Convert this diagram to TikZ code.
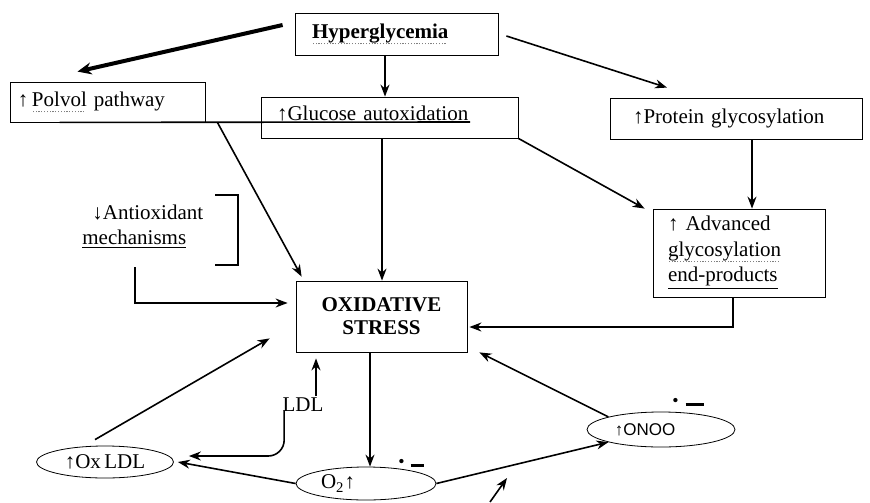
\documentclass[tikz,border=0pt]{standalone}
\usepackage{fontspec}
\setmainfont{Liberation Serif}
\newfontfamily\onoofont{Liberation Sans}
\usetikzlibrary{arrows.meta,shapes.geometric}

% spelling squiggle, plain underline, rising/falling marks
\newcommand\squig[1]{\leavevmode\setbox0\hbox{#1}\rlap{\raisebox{-3pt}{\color{gray}\leaders\hbox to 1.4pt{\hss\rule{0.6pt}{0.6pt}\hss}\hskip\wd0}}\box0{}}
\newcommand\uline[1]{\underline{#1}}
\newcommand\rise{{\bfseries ↑}}
\newcommand\fall{{\bfseries ↓}}

\tikzset{
  box/.style={draw,thin,rectangle,align=left,inner ysep=0pt},
  oval/.style={draw,thin,ellipse,inner sep=0pt},
  radical/.style={inner sep=0pt}
}

\begin{document}
\begin{tikzpicture}[x=0.5pt,y=-0.5pt,font=\fontsize{10.5}{12.6}\selectfont,>={Stealth[length=6pt,width=4.5pt]}]
\useasboundingbox (0,0) rectangle (870,502);

% boxes
\node[box,text width=84.5pt,inner xsep=8.5pt,minimum height=21pt] (hyper) at (396.5,34) {\textbf{\squig{Hyperglycemia}}};
\node[box,text width=89.5pt,inner xsep=4pt,minimum height=20pt] (polvol) at (107.5,102) {\rise\,\squig{Polvol} pathway};
\node[box,text width=112.5pt,inner xsep=8pt,minimum height=20.5pt,text depth=4pt] (gluc) at (389.5,117.5) {\rise Glucose autoxidation};
\node[box,text width=103pt,inner xsep=11.5pt,minimum height=20.5pt] (prot) at (736,118.5) {\rise Protein glycosylation};
\node[box,text width=71pt,inner xsep=7.5pt,minimum height=44pt] (age) at (739,253) {\rise\ Advanced\\\squig{glycosylation}\\\uline{end-products}};
\node[box,align=center,minimum width=85.5pt,minimum height=35.5pt,font=\fontsize{10.5}{11.5}\selectfont\bfseries] (oxs) at (381.5,316.5) {OXIDATIVE\\STRESS};
\node[align=left,anchor=west,inner sep=0pt] (antiox) at (82,227) {\hspace*{5pt}\fall Antioxidant\\\uline{mechanisms}};
\node[inner sep=1pt] (ldl) at (303,405) {LDL};

% ovals
\node[oval,minimum width=68.5pt,minimum height=16pt] (oxldl) at (105,462) {\rise Ox\,LDL};
\node[oval,minimum width=70pt,minimum height=16.5pt,label={[xshift=-14pt]center:O\textsubscript{2}\rise}] (o2) at (366,483.5) {};
\node[oval,minimum width=74pt,minimum height=17.5pt,label={[xshift=-8pt,font=\onoofont\fontsize{8.5}{10}\selectfont]center:\rise ONOO}] (onoo) at (661,429.5) {};
\node[radical] (o2rad) at (411,463) {{\small\textbullet}\hspace{3pt}\rule{6.5pt}{1.5pt}};
\node[radical] (onoorad) at (688,402) {{\small\textbullet}\hspace{3.5pt}\rule{9pt}{1.5pt}};

% arrows
\draw[line width=2pt,-{Stealth[length=7pt,width=6pt]}] ([xshift=-6pt,yshift=4.5pt]hyper.west) -- ([xshift=-15pt,yshift=5pt]polvol.north);
\draw[thick,->] ([xshift=4pt,yshift=-1pt]hyper.east) -- ([yshift=5pt]prot.north -| 667,0);
\foreach \a/\b/\x in {hyper/gluc/385,gluc/oxs/382,prot/age/752,oxs/o2/370}
  \draw[thick,->] (\a.south -| \x,0) -- (\b.north -| \x,0);
\draw[thick,->] ([xshift=6pt]polvol.south east) -- ([xshift=3pt,yshift=2pt]oxs.north west);
\draw[thick,->] (gluc.south east) -- ([xshift=-4pt]age.north west);
\draw[thick,->] ([yshift=-9pt]antiox.south -| 135,0) |- ([xshift=-4pt,yshift=6.75pt]oxs.west);
\draw[thick,->] (age.south -| 733,0) |- ([xshift=1pt,yshift=-5.25pt]oxs.east);
\draw[thick,->] (ldl.north -| 316,0) -- ([yshift=-3pt]oxs.south -| 316,0);
\draw[thick,->,rounded corners=8pt] ([xshift=2pt,yshift=2pt]ldl.south west) |- ([xshift=7.5pt,yshift=3pt]oxldl.east);
\draw[thick,->] ([xshift=-5pt,yshift=3pt]oxldl.north) -- ([xshift=-13pt,yshift=7pt]oxs.south west);
\draw[thick,->] (o2.west) -- ([xshift=2pt]oxldl.east);
\draw[thick,->] (o2.east) -- (onoo.south west);
\draw[thick,->] (onoo.north west) -- ([xshift=6pt]oxs.south east);

% loose arrow, stray line, bracket
\coordinate (loose) at (490,502);
\coordinate (looseend) at (507,478);
\draw[thick,->] (loose) -- (looseend);
\draw[thick] ([xshift=25pt]polvol.south west) -- (470,122);
\draw[thick] (215,195) -- (238,195) -- (238,265) -- (215,265);
\end{tikzpicture}
\end{document}
